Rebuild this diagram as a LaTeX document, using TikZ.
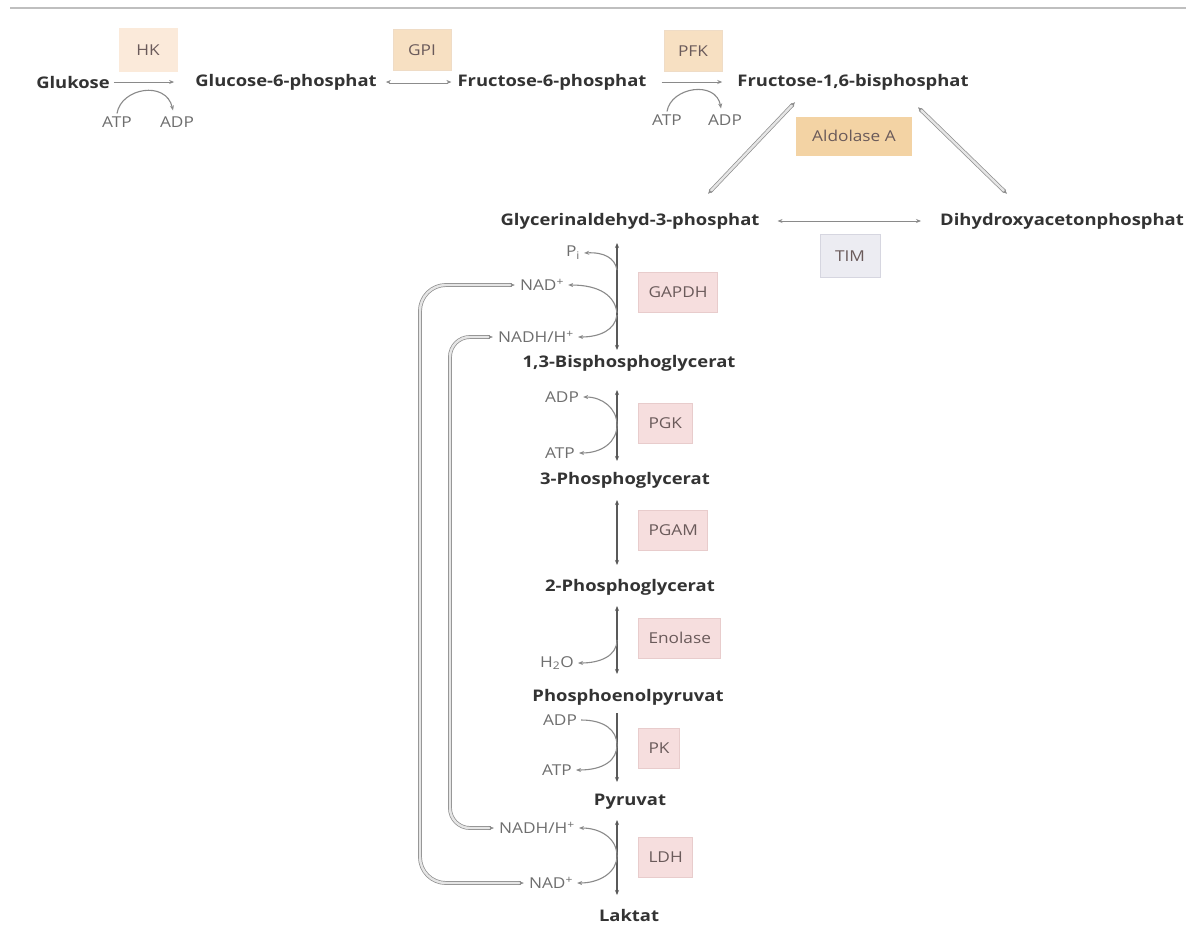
\documentclass[tikz,border=0pt]{standalone}
\usepackage{fontspec}
\setmainfont{Open Sans}[FakeStretch=1.15]
\usetikzlibrary{arrows.meta}
\definecolor{mettxt}{HTML}{333333}
\definecolor{coftxt}{HTML}{6E6E6E}
\definecolor{enztxt}{HTML}{6A5A5A}
\definecolor{pinkfill}{HTML}{F6DEDE}
\definecolor{pinkdraw}{HTML}{E8CCCC}
\definecolor{peachA}{HTML}{FBEADA}
\definecolor{peachB}{HTML}{F7E0C2}
\definecolor{peachdraw}{HTML}{EFDCC6}
\definecolor{aldfill}{HTML}{F3D3A4}
\definecolor{timfill}{HTML}{ECECF2}
\definecolor{timdraw}{HTML}{D6D6E0}
\definecolor{linecol}{HTML}{8A8A8A}
\begin{document}
\begin{tikzpicture}[x=1pt,y=-1pt,
  met/.style={font=\bfseries\fontsize{16}{18}\selectfont, text=mettxt, inner sep=1pt},
  cof/.style={font=\fontsize{15}{17}\selectfont, text=coftxt, inner sep=1pt},
  enzbox/.style={font=\fontsize{15}{17}\selectfont, text=enztxt, minimum height=40pt, inner xsep=10pt, line width=1pt},
  enzP/.style={enzbox, fill=pinkfill, draw=pinkdraw, anchor=west},
  enzH/.style={enzbox, fill=peachA, draw=peachA, minimum width=58pt, minimum height=43pt},
  enzG/.style={enzbox, fill=peachB, draw=peachdraw, minimum width=58pt, minimum height=41pt},
  axisline/.style={draw=black!65, line width=1.5pt},
  tipS/.tip={Stealth[length=5pt,width=4pt]},
  cf/.style={draw=linecol, line width=1.1pt},
  thinrx/.style={draw=linecol, line width=1pt},
  dbl/.style={draw=black!45, line width=0.6pt, double=white, double distance=1.8pt},
  dblwide/.style={draw=black!45, line width=0.7pt, double=black!10, double distance=2.4pt},
]
\useasboundingbox (0,0) rectangle (1186,930);
\fill[white] (0,0) rectangle (1186,930);
\coordinate (tl) at (10,8);
\coordinate (tr) at (1186,8);
\draw[black!25, line width=1.5pt] (tl) -- (tr);

% ---------- row 1 ----------
\node[met] (glc) at (73,82) {Glukose};
\node[met] (g6p) at (286,82) {Glucose-6-phosphat};
\node[met] (f6p) at (552,82) {Fructose-6-phosphat};
\node[met] (f16) at (853,82) {Fructose-1,6-bisphosphat};

\node[enzH] (hk) at (148,50) {HK};
\node[enzG] (gpi) at (422,50) {GPI};
\node[enzG] (pfk) at (693,51) {PFK};

\node[cof] (atpA) at (117,122) {ATP};
\node[cof] (adpA) at (177,122) {ADP};
\node[cof] (atpB) at (667,120) {ATP};
\node[cof] (adpB) at (725,120) {ADP};

\draw[thinrx, -tipS] ([xshift=3pt]glc.east) -- ([xshift=-20pt]g6p.west);
\draw[cf, -tipS] ([yshift=2pt]atpA.north) .. controls (121,88) and (166,80) .. ([xshift=-4pt,yshift=5pt]adpA.north);
\draw[dbl, tipS-tipS] ([xshift=8pt]g6p.east) -- ([xshift=-5pt]f6p.west);
\draw[thinrx, -tipS] ([xshift=14pt]f6p.east) -- ([xshift=-14pt]f16.west);
\draw[cf, -tipS] ([yshift=2pt]atpB.north) .. controls (671,87) and (716,80) .. ([xshift=-4pt,yshift=5pt]adpB.north);

% ---------- aldolase / TIM ----------
\node[enzbox, fill=aldfill, draw=aldfill, minimum width=115pt, minimum height=38pt] (ald) at (854,136) {Aldolase A};
\node[met] (gap) at (630,221) {Glycerinaldehyd-3-phosphat};
\node[met] (dhap) at (1062,221) {Dihydroxyacetonphosphat};
\node[enzbox, fill=timfill, draw=timdraw, minimum width=60pt, minimum height=43pt] (tim) at (850,256) {TIM};

\draw[dblwide, tipS-tipS] ([xshift=-58pt,yshift=-11pt]f16.south) -- ([xshift=78pt,yshift=18pt]gap.north);
\draw[dblwide, tipS-tipS] ([xshift=65pt,yshift=-16pt]f16.south) -- ([xshift=-55pt,yshift=18pt]dhap.north);
\draw[thinrx, tipS-tipS] ([xshift=17pt]gap.east) -- ([xshift=-18pt]dhap.west);

% ---------- vertical chain ----------
\node[met] (bpg) at (629,363) {1,3-Bisphosphoglycerat};
\node[met] (pgthree) at (625,480) {3-Phosphoglycerat};
\node[met] (pgtwo) at (630,587) {2-Phosphoglycerat};
\node[met] (pep) at (628,697) {Phosphoenolpyruvat};
\node[met] (pyr) at (630,802) {Pyruvat};
\node[met] (lac) at (629,915) {Laktat};

\node[enzP] (gapdh) at (638,292) {GAPDH};
\node[enzP] (pgk) at (638,423) {PGK};
\node[enzP] (pgam) at (638,530) {PGAM};
\node[enzP] (eno) at (638,638) {Enolase};
\node[enzP] (pk) at (638,748) {PK};
\node[enzP] (ldh) at (638,857) {LDH};

% axis end points
\coordinate (a1t) at (617,243); \coordinate (a1b) at (617,350);
\coordinate (a2t) at (617,390); \coordinate (a2b) at (617,461);
\coordinate (a3t) at (617,500); \coordinate (a3b) at (617,565);
\coordinate (a4t) at (617,606); \coordinate (a4b) at (617,674);
\coordinate (a5t) at (617,713); \coordinate (a5b) at (617,782);
\coordinate (a6t) at (617,820); \coordinate (a6b) at (617,895);

\draw[axisline, tipS-tipS] (a1t) -- (a1b);
\draw[axisline, tipS-tipS] (a2t) -- (a2b);
\draw[axisline, tipS-tipS] (a3t) -- (a3b);
\draw[axisline, tipS-tipS] (a4t) -- (a4b);
\draw[axisline, -tipS] (a5t) -- (a5b);
\draw[axisline, tipS-tipS] (a6t) -- (a6b);

% cofactors
\node[cof] (pi) at (573,253) {P\textsubscript{i}};
\node[cof] (nadA) at (542,285) {NAD\textsuperscript{+}};
\node[cof] (nadhA) at (536,337) {NADH/H\textsuperscript{+}};
\node[cof] (adpC) at (562,397) {ADP};
\node[cof] (atpC) at (560,453) {ATP};
\node[cof] (water) at (557,663) {H\textsubscript{2}O};
\node[cof] (adpD) at (560,720) {ADP};
\node[cof] (atpD) at (557,770) {ATP};
\node[cof] (nadhB) at (537,828) {NADH/H\textsuperscript{+}};
\node[cof] (nadB) at (551,883) {NAD\textsuperscript{+}};

\draw[cf, tipS-] ([xshift=3pt]pi.east) .. controls (604,252) and (615,258) .. (617,270);
\draw[cf, tipS-] ([xshift=3pt]nadA.east) .. controls (600,285) and (615,296) .. (617,313);
\draw[cf, tipS-] ([xshift=3pt]nadhA.east) .. controls (600,337) and (615,330) .. (617,315);
\draw[cf, tipS-] ([xshift=3pt]adpC.east) .. controls (602,397) and (617,408) .. (617,425);
\draw[cf, tipS-] ([xshift=3pt]atpC.east) .. controls (602,453) and (617,442) .. (617,425);
\draw[cf, tipS-] ([xshift=3pt]water.east) .. controls (600,663) and (617,656) .. (617,640);
\draw[cf, -tipS] ([xshift=3pt]adpD.east) .. controls (604,720) and (617,730) .. (617,745)
   .. controls (617,760) and (604,770) .. ([xshift=3pt]atpD.east);
\draw[cf, tipS-] ([xshift=3pt]nadhB.east) .. controls (600,828) and (617,838) .. (617,856);
\draw[cf, tipS-] ([xshift=3pt]nadB.east) .. controls (600,883) and (617,872) .. (617,856);

% long loops
\coordinate (outerx) at (420,0);
\coordinate (innerx) at (450,0);
\draw[dblwide, tipS-tipS, rounded corners=26pt] ([xshift=-4pt]nadA.west) -- (nadA.west -| outerx) -- (nadB.west -| outerx) -- ([xshift=-4pt]nadB.west);
\draw[dblwide, tipS-tipS, rounded corners=20pt] ([xshift=-4pt]nadhA.west) -- (nadhA.west -| innerx) -- (nadhB.west -| innerx) -- ([xshift=-4pt]nadhB.west);
\end{tikzpicture}
\end{document}
